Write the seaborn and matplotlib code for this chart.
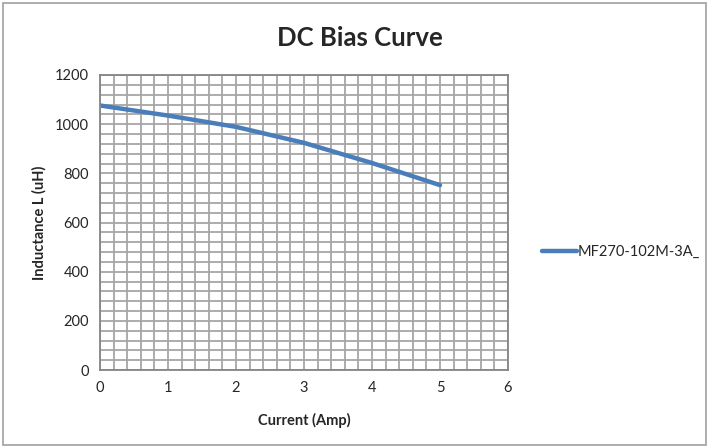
import numpy as np
import pandas as pd
import matplotlib
matplotlib.use('Agg')
import matplotlib.pyplot as plt
import matplotlib.ticker as mticker
import seaborn as sns

# data
current = [0, 1, 2, 3, 4, 5]
inductance = [1076, 1035, 989, 924, 842, 752]
series_name = "MF270-102M-3A_"

sns.set_theme(style="white")
plt.rcParams['font.family'] = ['Lato', 'DejaVu Sans']

df = pd.DataFrame({'Current (Amp)': current, 'Inductance L (uH)': inductance,
                   'series': series_name})

fig = plt.figure(figsize=(7.09, 4.47), dpi=100, facecolor='white')
ax = fig.add_axes([100/709, 1 - 370/447, 408/709, 295/447])

sns.lineplot(data=df, x='Current (Amp)', y='Inductance L (uH)', hue='series',
             palette=['#4a7ebb'], linewidth=3.2, ax=ax, legend=True)

ax.set_xlim(0, 6)
ax.set_ylim(0, 1200)
ax.xaxis.set_major_locator(mticker.MultipleLocator(1))
ax.xaxis.set_minor_locator(mticker.MultipleLocator(0.2))
ax.yaxis.set_major_locator(mticker.MultipleLocator(200))
ax.yaxis.set_minor_locator(mticker.MultipleLocator(40))
ax.grid(which='both', color='#a6a6a6', linewidth=1.3)
ax.set_axisbelow(True)
for s in ax.spines.values():
    s.set_color('#868686')
    s.set_linewidth(1.3)
ax.tick_params(which='both', length=0, labelsize=10.5, colors='#262626', pad=8)

ax.set_xlabel('Current (Amp)', fontsize=10.5, fontweight='bold', labelpad=13)
ax.set_ylabel('Inductance L (uH)', fontsize=10.5, fontweight='bold', labelpad=6)
fig.text(360/709, 1 - 38/447, 'DC Bias Curve', ha='center', va='center',
         fontsize=18.5, fontweight='bold')

leg = ax.legend(loc='center left', bbox_to_anchor=(1.05, 0.4), frameon=False,
                fontsize=10.5, handlelength=2.4, handletextpad=0.1)
for line in leg.get_lines():
    line.set_linewidth(3.2)

# outer chart border
fig.patches.append(matplotlib.patches.Rectangle((0.004, 0.004), 0.992, 0.99,
                   transform=fig.transFigure, fill=False, edgecolor='#a0a0a0',
                   linewidth=1.2))

fig.savefig('out.png', dpi=100, facecolor='white')
